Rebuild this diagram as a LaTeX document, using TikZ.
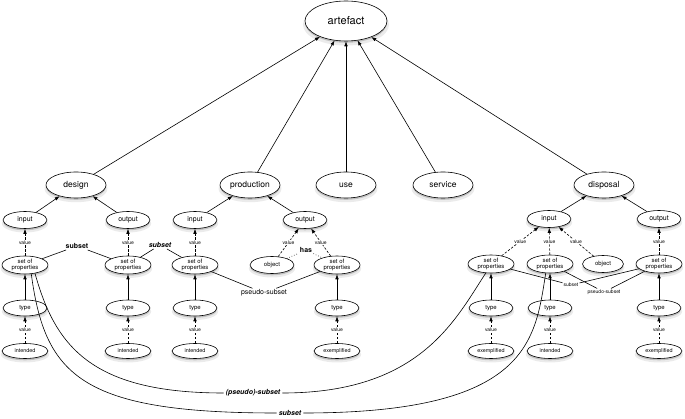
\documentclass[tikz,border=0pt]{standalone}
\usepackage{fontspec}
\setmainfont{TeX Gyre Heros}
\usetikzlibrary{shapes.geometric,arrows.meta,shadows}
\newcommand\myfs[1]{\fontsize{#1}{#1}\selectfont}
\tikzset{
  nd/.style={ellipse, draw, line width=0.6pt, fill=white, inner sep=0pt, align=center,
     general shadow={fill=black, opacity=0.08, shadow yshift=-3.4pt, shadow scale=1.05},
     general shadow={fill=black, opacity=0.18, shadow yshift=-1.8pt}},
  topnd/.style={nd, minimum width=82pt, minimum height=40pt, font=\myfs{11}},
  midnd/.style={nd, minimum width=60pt, minimum height=26pt, font=\myfs{8.5}},
  iond/.style={nd, minimum width=44pt, minimum height=17pt, font=\myfs{7}},
  sopnd/.style={nd, minimum width=46pt, minimum height=18pt, font=\fontsize{6}{6.8}\selectfont},
  objnd/.style={nd, minimum width=44pt, minimum height=17pt, font=\myfs{6}},
  typnd/.style={nd, minimum width=44pt, minimum height=16pt, font=\myfs{6}},
  leafnd/.style={nd, minimum width=46pt, minimum height=15pt, font=\myfs{5.4}},
  arr/.style={-{Latex[length=5pt,width=3.6pt]}, line width=0.6pt},
  darr/.style={arr, dash pattern=on 2.4pt off 1.6pt},
  vlab/.style={fill=white, inner sep=0.8pt, font=\myfs{5}},
  rlab/.style={inner sep=1.2pt, font=\myfs{7}},
  slab/.style={inner sep=1pt, font=\myfs{5}},
  blab/.style={inner sep=2pt, font=\myfs{7}\bfseries\itshape},
  rel/.style={line width=0.6pt},
}
\begin{document}
\begin{tikzpicture}[x=1pt,y=-1pt]
\useasboundingbox (0,0) rectangle (685,419);
% top
\node[topnd] (art) at (346,21) {artefact};
% level 2
\node[midnd] (des) at (76,185) {design};
\node[midnd] (pro) at (250,185) {production};
\node[midnd] (use) at (346,185) {use};
\node[midnd] (ser) at (443,185) {service};
\node[midnd] (dis) at (604,185) {disposal};
% level 3
\node[iond] (din) at (25,220) {input};
\node[iond] (dout) at (128,220) {output};
\node[iond] (pin) at (195,220) {input};
\node[iond] (pout) at (305,220) {output};
\node[iond] (xin) at (549,219) {input};
\node[iond] (xout) at (659,219) {output};
% level 4
\node[sopnd] (sd1) at (25,265) {set of\\properties};
\node[sopnd] (sd2) at (128,265) {set of\\properties};
\node[sopnd] (sp1) at (195,265) {set of\\properties};
\node[objnd] (op) at (272,265) {object};
\node[sopnd] (sp2) at (337,265) {set of\\properties};
\node[sopnd] (s1) at (491,264) {set of\\properties};
\node[sopnd] (s2) at (550,264) {set of\\properties};
\node[objnd, minimum width=41pt] (ox) at (603,264) {object};
\node[sopnd] (s3) at (659,264) {set of\\properties};
% level 5
\node[typnd] (td1) at (25,308) {type};
\node[typnd] (td2) at (128,308) {type};
\node[typnd] (tp1) at (195,308) {type};
\node[typnd] (tp2) at (337,308) {type};
\node[typnd] (t1) at (491,308) {type};
\node[typnd] (t2) at (550,308) {type};
\node[typnd] (t3) at (659,308) {type};
% level 6
\node[leafnd] (ld1) at (25,351) {intended};
\node[leafnd] (ld2) at (128,351) {intended};
\node[leafnd] (lp1) at (195,351) {intended};
\node[leafnd] (lp2) at (337,351) {exemplified};
\node[leafnd] (l1) at (491,351) {exemplified};
\node[leafnd] (l2) at (550,351) {intended};
\node[leafnd] (l3) at (659,351) {exemplified};

% arrows to artefact
\foreach \n in {des,pro,use,ser,dis} \draw[arr] (\n) -- (art);
% level 3 to level 2
\draw[arr] (din) -- (des);
\draw[arr] (dout) -- (des);
\draw[arr] (pin) -- (pro);
\draw[arr] (pout) -- (pro);
\draw[arr] (xin) -- (dis);
\draw[arr] (xout) -- (dis);
% value arrows level 4 -> 3
\draw[darr] (sd1) -- node[vlab]{value} (din);
\draw[darr] (sd2) -- node[vlab]{value} (dout);
\draw[darr] (sp1) -- node[vlab]{value} (pin);
\draw[darr] (op) -- node[vlab]{value} (pout);
\draw[darr] (sp2) -- node[vlab]{value} (pout);
\draw[darr] (s1) -- node[vlab]{value} (xin);
\draw[darr] (s2) -- node[vlab]{value} (xin);
\draw[darr] (ox) -- node[vlab]{value} (xin);
\draw[darr] (s3) -- node[vlab]{value} (xout);
% type -> set
\foreach \a/\b in {td1/sd1,td2/sd2,tp1/sp1,tp2/sp2,t1/s1,t2/s2,t3/s3} \draw[arr] (\a) -- (\b);
% leaf -> type
\foreach \a/\b in {ld1/td1,ld2/td2,lp1/tp1,lp2/tp2,l1/t1,l2/t2,l3/t3} \draw[darr] (\a) -- node[vlab]{value} (\b);

% relation labels
\node[rlab, font=\myfs{7}\bfseries] (r1) at (77,246) {subset};
\node[rlab, font=\myfs{7}\bfseries\itshape] (r2) at (160,245) {subset};
\node[rlab] (r3) at (264,293) {pseudo-subset};
\node[rlab, font=\myfs{7}\bfseries] (r4) at (306,250) {has};
\node[slab] (r5) at (571,285) {subset};
\node[slab] (r6) at (604,292) {pseudo-subset};
\draw[rel] (sd1) -- (r1) -- (sd2);
\draw[rel] (sd2) -- (r2) -- (sp1);
\draw[rel] (sp1) -- (r3) -- (sp2);
\draw[rel, dotted] (op) -- (r4) -- (sp2);
\draw[rel] (s1) -- (r5) -- (s3);
\draw[rel] (s2) -- (r6) -- (s3);

% long bottom curves
\node[blab] (r7) at (253,393) {(pseudo)-subset};
\node[blab] (r8) at (290,413) {subset};
\draw[rel] (sd1.-40) .. controls (55,345) and (90,393) .. (r7.west);
\draw[rel] (r7.east) .. controls (420,393) and (455,320) .. (s1.-120);
\draw[rel] (sd1.-55) .. controls (45,375) and (80,413) .. (r8.west);
\draw[rel] (r8.east) .. controls (530,413) and (535,340) .. (s2.-115);
\end{tikzpicture}
\end{document}
